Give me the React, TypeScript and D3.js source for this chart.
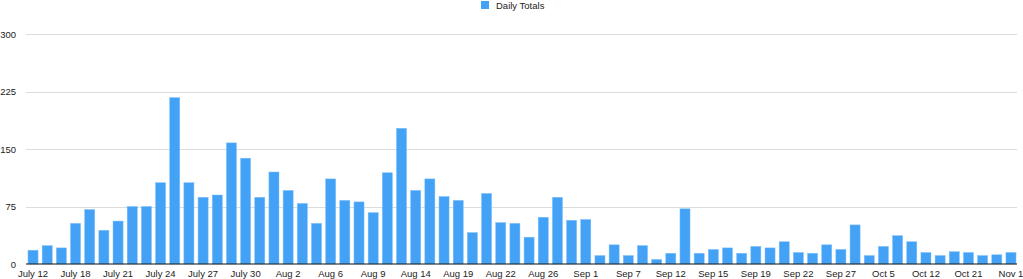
import React from "react";
import * as d3 from "d3";

const categories: string[] = [
  "July 12", "July 14", "July 16", "July 18", "July 19", "July 20", "July 21", "July 22", "July 23", "July 24",
  "July 25", "July 26", "July 27", "July 28", "July 29", "July 30", "July 31", "Aug 1", "Aug 2", "Aug 3",
  "Aug 5", "Aug 6", "Aug 7", "Aug 8", "Aug 9", "Aug 11", "Aug 12", "Aug 14", "Aug 16", "Aug 17",
  "Aug 19", "Aug 20", "Aug 21", "Aug 22", "Aug 23", "Aug 24", "Aug 26", "Aug 28", "Aug 30", "Sep 1",
  "Sep 3", "Sep 5", "Sep 7", "Sep 9", "Sep 11", "Sep 12", "Sep 13", "Sep 14", "Sep 15", "Sep 16",
  "Sep 18", "Sep 19", "Sep 20", "Sep 21", "Sep 22", "Sep 24", "Sep 26", "Sep 27", "Sep 29", "Oct 2",
  "Oct 5", "Oct 8", "Oct 10", "Oct 12", "Oct 15", "Oct 18", "Oct 21", "Oct 24", "Oct 28", "Nov 1",
];

const dailyTotals: number[] = [
  18, 24, 21, 53, 71, 44, 56, 75, 75, 106,
  217, 106, 87, 90, 158, 138, 87, 120, 96, 79,
  53, 111, 83, 81, 67, 119, 177, 96, 111, 88,
  83, 41, 92, 54, 53, 35, 61, 87, 57, 58,
  11, 25, 11, 24, 6, 14, 72, 14, 19, 21,
  14, 23, 21, 29, 15, 14, 25, 19, 51, 11,
  23, 37, 29, 15, 11, 16, 15, 11, 12, 15,
];

const yTicks: number[] = [0, 75, 150, 225, 300];
const seriesName = "Daily Totals";

const W = 1023;
const H = 279;
const FONT = "'Liberation Sans', Arial, Helvetica, sans-serif";

export default function App() {
  const x = d3
    .scaleBand<string>()
    .domain(categories)
    .range([26, 1018])
    .paddingInner(0.29)
    .paddingOuter(0.14);
  const y = d3.scaleLinear().domain([0, 300]).range([264, 34]);

  const shownLabels = categories.filter((_, i) => i % 3 === 0);

  return (
    <svg
      width={W}
      height={H}
      style={{ position: "absolute", left: 0, top: 0, display: "block", background: "#fff" }}
      fontFamily={FONT}
    >
      {/* legend */}
      <rect x={481} y={1} width={8} height={8} fill="#44a2f6" />
      <text x={496} y={9} fontSize={9.5} fill="#222">
        {seriesName}
      </text>

      {/* grid + y labels */}
      {yTicks.map((t) => (
        <g key={t}>
          {t !== 0 && (
            <line x1={26} x2={1017} y1={Math.round(y(t)) + 0.5} y2={Math.round(y(t)) + 0.5} stroke="#dcdcdc" strokeWidth={1} />
          )}
          <text x={16} y={y(t) + 3.5} fontSize={9.5} textAnchor="end" fill="#222">
            {t}
          </text>
        </g>
      ))}

      {/* bars */}
      {dailyTotals.map((v, i) => {
        const c = categories[i];
        const bx = x(c) as number;
        const by = y(v);
        return (
          <rect
            key={c}
            x={bx}
            y={by}
            width={x.bandwidth()}
            height={y(0) - by}
            fill="#44a2f6"
            stroke="#7cc0fa"
            strokeWidth={0.5}
          />
        );
      })}

      {/* baseline */}
      <line x1={26} x2={1017} y1={264} y2={264} stroke="#111" strokeWidth={1.2} />

      {/* x labels */}
      {shownLabels.map((c) => (
        <text
          key={c}
          x={(x(c) as number) + x.bandwidth() / 2}
          y={276.5}
          fontSize={9.5}
          textAnchor="middle"
          fill="#222"
        >
          {c}
        </text>
      ))}
    </svg>
  );
}
